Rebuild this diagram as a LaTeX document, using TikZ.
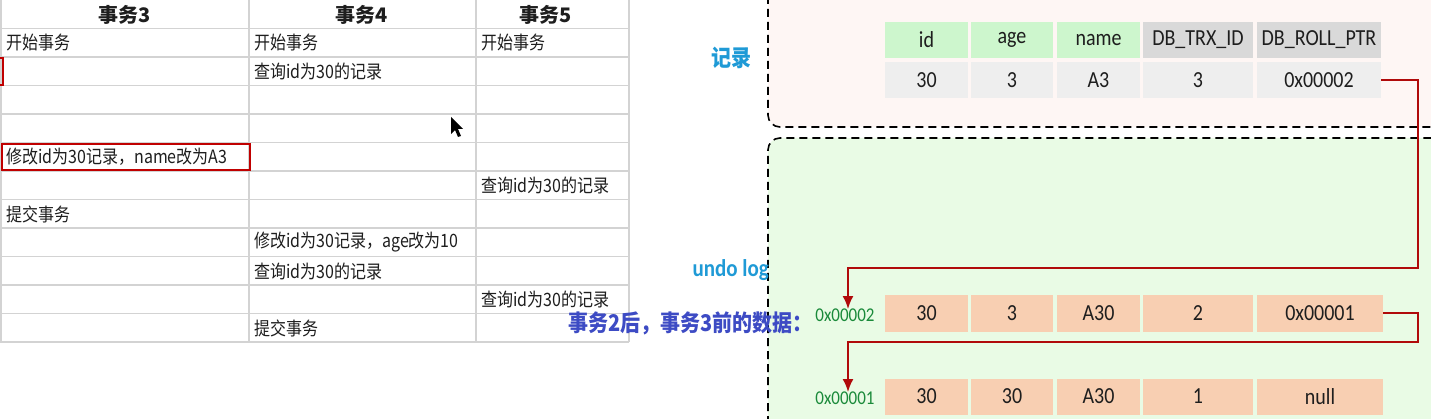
\documentclass[tikz,border=0pt]{standalone}
\usepackage{graphicx}
\usepackage{fontspec}
\setmainfont{Carlito}
\newfontfamily\cjk{Noto Sans CJK SC}
\usetikzlibrary{arrows.meta}
\newcommand\vs[1]{\scalebox{1}[1.15]{#1}}
\definecolor{gridc}{HTML}{D3D3D3}
\definecolor{tabtext}{HTML}{1E1E1E}
\definecolor{redbox}{HTML}{C00000}
\definecolor{pinkbg}{HTML}{FEF6F4}
\definecolor{greenbg}{HTML}{E9FBE5}
\definecolor{hgreen}{HTML}{CDF6CD}
\definecolor{hgray}{HTML}{D9D9D9}
\definecolor{dgray}{HTML}{EEEEEE}
\definecolor{peach}{HTML}{F8CFB2}
\definecolor{connc}{HTML}{B00A0A}
\definecolor{cyanl}{HTML}{1F9AD6}
\definecolor{bluel}{HTML}{3D4BC4}
\definecolor{addrc}{HTML}{1A8A3A}
\begin{document}
\begin{tikzpicture}[x=1pt,y=-1pt,
  gridline/.style={draw=gridc,line width=1.5pt},
  tcell/.style={anchor=west,inner sep=0,font=\cjk\fontsize{16}{18}\selectfont,text=tabtext},
  thead/.style={inner sep=0,font=\cjk\bfseries\fontsize{20}{22}\selectfont,text=tabtext},
  rbox/.style={draw=redbox,line width=2.4pt},
  fcell/.style={inner sep=0,minimum height=36pt,font=\fontsize{20}{24}\selectfont,text=tabtext},
  hg/.style={fcell,fill=hgreen},
  hy/.style={fcell,fill=hgray},
  dg/.style={fcell,fill=dgray},
  pc/.style={fcell,fill=peach},
  addr/.style={font=\fontsize{17}{20}\selectfont,text=addrc},
  panel/.style={draw=black,line width=1.6pt,dash pattern=on 8pt off 5pt,rounded corners=12pt},
  conn/.style={draw=connc,line width=2pt,-{Latex[length=13pt,width=11pt]}},
  lab/.style={font=\bfseries\fontsize{21}{24}\selectfont}
]
\useasboundingbox (0,0) rectangle (1431,419);
\fill[white] (0,0) rectangle (1431,419);

% ---------- left table ----------
\foreach \i in {1,...,12} \draw[gridline] (0,{28.5*\i}) -- (629,{28.5*\i});
\foreach \x in {1,249,476,629} \draw[gridline] (\x,0) -- (\x,342);

\node[thead] (h3) at (125,15) {事务3};
\node[thead] (h4) at (362,15) {事务4};
\node[thead] (h5) at (546,15) {事务5};

\node[tcell] (a1) at (6,43) {\vs{开始事务}};
\node[tcell] (b1) at (254,43) {\vs{开始事务}};
\node[tcell] (c1) at (481,43) {\vs{开始事务}};
\node[tcell] (b2) at (254,71.5) {\vs{查询id为30的记录}};
\node[tcell] (a5) at (6,157) {\vs{修改id为30记录，name改为A3}};
\node[tcell] (c6) at (481,185.5) {\vs{查询id为30的记录}};
\node[tcell] (a7) at (6,214) {\vs{提交事务}};
\node[tcell] (b8) at (254,242.5) {\vs{修改id为30记录，age改为10}};
\node[tcell] (b9) at (254,271) {\vs{查询id为30的记录}};
\node[tcell] (c10) at (481,299.5) {\vs{查询id为30的记录}};
\node[tcell] (b11) at (254,328) {\vs{提交事务}};

\draw[rbox] (-6,58) rectangle (3,85);
\draw[rbox] (2,144) rectangle (250,170);

% mouse cursor
\fill[black] (451,117) -- (451,134) -- (455,130) -- (458,137) -- (461,136) -- (458,129) -- (463,129) -- cycle;

% ---------- panels ----------
\fill[pinkbg,rounded corners=12pt] (768,-30) -- (768,127) -- (1460,127) -- (1460,-30) -- cycle;
\fill[greenbg,rounded corners=12pt] (768,450) -- (768,138) -- (1460,138) -- (1460,450) -- cycle;
\draw[panel] (768,-30) -- (768,127) -- (1460,127);
\draw[panel] (768,450) -- (768,138) -- (1460,138);

% ---------- record ----------
\node[hg,minimum width=83pt] (r1h) at (926.5,40) {\vs{id}};
\node[hg,minimum width=82pt] (r2h) at (1012,40) {\vs{age}};
\node[hg,minimum width=83pt] (r3h) at (1098.5,40) {\vs{name}};
\node[hy,minimum width=110pt] (r4h) at (1198,40) {\vs{DB\_TRX\_ID}};
\node[hy,minimum width=124pt] (r5h) at (1319,40) {\vs{DB\_ROLL\_PTR}};
\node[dg,minimum width=83pt] (r1) at (926.5,80) {\vs{30}};
\node[dg,minimum width=82pt] (r2) at (1012,80) {\vs{3}};
\node[dg,minimum width=83pt] (r3) at (1098.5,80) {\vs{A3}};
\node[dg,minimum width=110pt] (r4) at (1198,80) {\vs{3}};
\node[dg,minimum width=124pt] (r5) at (1319,80) {\vs{0x00002}};

% ---------- undo log rows ----------
\node[pc,minimum width=83pt] (u1) at (926.5,313.5) {\vs{30}};
\node[pc,minimum width=82pt] (u2) at (1012,313.5) {\vs{3}};
\node[pc,minimum width=83pt] (u3) at (1098.5,313.5) {\vs{A30}};
\node[pc,minimum width=110pt] (u4) at (1198,313.5) {\vs{2}};
\node[pc,minimum width=126pt] (u5) at (1320,313.5) {\vs{0x00001}};
\node[pc,minimum width=83pt] (v1) at (926.5,396.5) {\vs{30}};
\node[pc,minimum width=82pt] (v2) at (1012,396.5) {\vs{30}};
\node[pc,minimum width=83pt] (v3) at (1098.5,396.5) {\vs{A30}};
\node[pc,minimum width=110pt] (v4) at (1198,396.5) {\vs{1}};
\node[pc,minimum width=126pt] (v5) at (1320,396.5) {\vs{null}};

\node[addr] (ad1) at (845,315) {\vs{0x00002}};
\node[addr] (ad2) at (845,398) {\vs{0x00001}};

% ---------- labels ----------
\node[lab,font=\cjk\bfseries\fontsize{20}{22}\selectfont,text=cyanl] (lrec) at (731,58) {\vs{记录}};
\node[lab,text=cyanl,anchor=east,inner sep=0] (lundo) at (769,270) {\vs{undo log}};
\node[lab,font=\cjk\bfseries\fontsize{20}{22}\selectfont,text=bluel,anchor=west,inner sep=0] (lbefore) at (568,323) {\vs{事务2后，事务3前的数据：}};

% ---------- connectors ----------
\coordinate (rx) at (1418,0);
\coordinate (k1) at (0,268);
\coordinate (k2) at (0,342);
\draw[conn] (r5.east) -- (r5.east -| rx) |- ([xshift=3pt]ad1.north |- k1) -- ([xshift=3pt,yshift=-4pt]ad1.north);
\draw[conn] (u5.east) -- (u5.east -| rx) |- ([xshift=3pt]ad2.north |- k2) -- ([xshift=3pt,yshift=-4pt]ad2.north);
\end{tikzpicture}
\end{document}
